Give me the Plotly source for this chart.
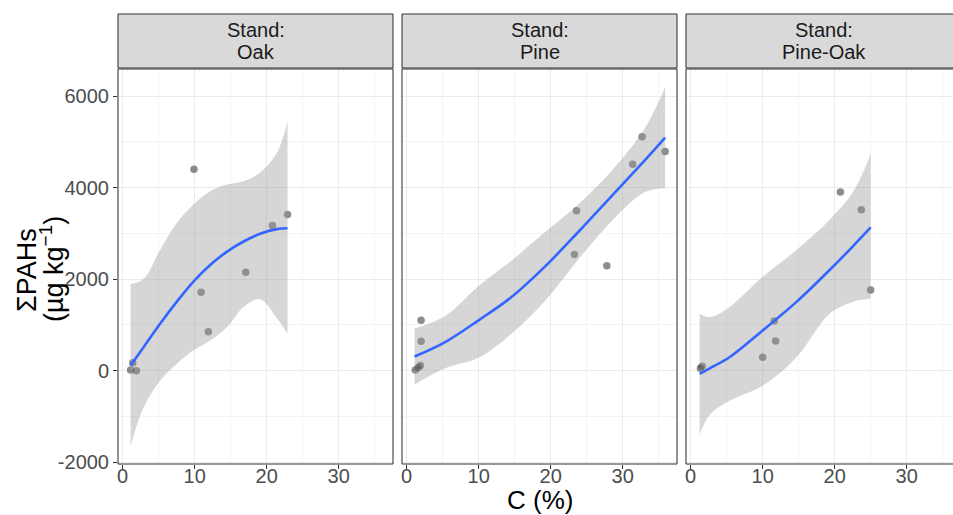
import plotly.graph_objects as go

# ---------------- data ----------------
stands = ["Oak", "Pine", "Pine-Oak"]

# observed points (C %, ΣPAHs µg/kg)
oak_c = [1.1, 1.4, 1.9, 9.9, 10.9, 11.9, 17.1, 20.8, 22.9]
oak_pah = [15, 170, 0, 4400, 1710, 850, 2150, 3170, 3410]

pine_c = [1.2, 1.6, 1.9, 2.0, 2.0, 23.3, 23.6, 27.8, 31.4, 32.7, 35.9]
pine_pah = [15, 70, 110, 640, 1100, 2535, 3495, 2290, 4510, 5110, 4790]

pineoak_c = [1.35, 1.6, 10.0, 11.6, 11.8, 20.8, 23.7, 25.0]
pineoak_pah = [50, 95, 295, 1085, 645, 3905, 3515, 1760]

# smoothed fit (loess) with confidence band
oak_fit_c = [1.1, 2.9, 5.2, 7.5, 9.8, 12.15, 14.5, 16.8, 19.1, 21.4, 22.9]
oak_fit = [110, 513, 1026, 1502, 1941, 2308, 2601, 2821, 2989, 3092, 3110]
oak_upper = [1890, 2000, 2637, 3224, 3626, 3919, 4066, 4139, 4330, 4750, 5450]
oak_lower = [-1648, -806, -220, 147, 440, 659, 952, 1392, 1560, 1150, 806]

pine_fit_c = [1.1, 5.35, 9.98, 14.6, 19.2, 23.9, 28.5, 33.1, 35.9]
pine_fit = [308, 623, 1099, 1612, 2271, 3040, 3820, 4600, 5092]
pine_upper = [918, 1193, 1850, 2412, 3021, 3640, 4370, 5300, 6192]
pine_lower = [-302, 53, 280, 812, 1521, 2440, 3270, 3900, 3992]

pineoak_fit_c = [1.25, 2.7, 5.4, 10.0, 14.7, 19.3, 22.5, 25.0]
pineoak_fit = [-73, 55, 293, 879, 1502, 2198, 2711, 3128]
pineoak_upper = [1245, 1172, 1392, 2051, 2637, 3297, 3890, 4725]
pineoak_lower = [-1392, -952, -659, -330, 293, 1245, 1502, 1575]

x_ticks = [0, 10, 20, 30]
y_ticks = [-2000, 0, 2000, 4000, 6000]

# ---------------- layout geometry ----------------
W, H = 953, 515
ML, MR, MT, MB = 118, 0, 14, 51
PW = W - ML - MR
PH = H - MT - MB
panel_px = [(118, 393), (402, 677), (686, 961)]
panel_top_px = 69
strip_top_px, strip_bot_px = 14, 68

def px2paper_x(px):
    return (px - ML) / PW

def px2paper_y(py):
    return (H - MB - py) / PH

unit = 275 / 38.2
x0_val = -0.65
y_range = [-2040, 6590]

FONT = "Liberation Sans, Arial, sans-serif"
GRID = "#ebebeb"
MINOR = "#f4f4f4"
DARK = "#333333"

fig = go.Figure()

data = [
    (oak_c, oak_pah, oak_fit_c, oak_fit, oak_upper, oak_lower),
    (pine_c, pine_pah, pine_fit_c, pine_fit, pine_upper, pine_lower),
    (pineoak_c, pineoak_pah, pineoak_fit_c, pineoak_fit, pineoak_upper, pineoak_lower),
]

for i, (pc, pv, fc, fv, up, lo) in enumerate(data):
    xa = "x" if i == 0 else f"x{i+1}"
    ya = "y" if i == 0 else f"y{i+1}"
    fig.add_trace(go.Scatter(x=pc, y=pv, mode="markers", xaxis=xa, yaxis=ya,
                             marker=dict(size=7.5, color="rgba(0,0,0,0.45)", line=dict(width=0)),
                             showlegend=False, hoverinfo="skip"))
    fig.add_trace(go.Scatter(x=fc, y=lo, mode="lines", xaxis=xa, yaxis=ya,
                             line=dict(width=0, shape="spline", color="rgba(0,0,0,0)"),
                             showlegend=False, hoverinfo="skip"))
    fig.add_trace(go.Scatter(x=fc, y=up, mode="lines", fill="tonexty",
                             fillcolor="rgba(153,153,153,0.4)",
                             line=dict(width=0, shape="spline", color="rgba(0,0,0,0)"),
                             xaxis=xa, yaxis=ya, showlegend=False, hoverinfo="skip"))
    fig.add_trace(go.Scatter(x=fc, y=fv, mode="lines", xaxis=xa, yaxis=ya,
                             line=dict(color="#3366FF", width=2.6, shape="spline"),
                             showlegend=False, hoverinfo="skip"))

layout = dict(width=W, height=H, margin=dict(l=ML, r=MR, t=MT, b=MB, autoexpand=False),
              paper_bgcolor="white", plot_bgcolor="white", showlegend=False,
              font=dict(family=FONT))

ydom = [0, px2paper_y(panel_top_px)]
for i, (a, b) in enumerate(panel_px):
    sfx = "" if i == 0 else str(i + 1)
    b_clip = min(b, W)
    width_px = b_clip - a
    layout["xaxis" + sfx] = dict(
        domain=[px2paper_x(a), min(px2paper_x(b), 1.0)],
        range=[x0_val, x0_val + width_px / unit],
        tickvals=x_ticks, ticktext=[str(v) for v in x_ticks],
        ticks="outside", ticklen=4, tickwidth=1.07, tickcolor=DARK,
        ticklabelstandoff=-10,
        tickfont=dict(size=20, color="#4d4d4d", family=FONT),
        showgrid=True, gridcolor=GRID, gridwidth=1.07,
        minor=dict(showgrid=True, gridcolor=MINOR, gridwidth=1, tickvals=[5, 15, 25, 35]),
        zeroline=False, showline=False, anchor="y" + sfx, automargin=False,
    )
    layout["yaxis" + sfx] = dict(
        domain=ydom, range=y_range,
        tickvals=y_ticks, ticktext=[str(v) for v in y_ticks],
        ticks="outside" if i == 0 else "", ticklen=4, tickwidth=1.07, tickcolor=DARK,
        showticklabels=(i == 0),
        tickfont=dict(size=20, color="#4d4d4d", family=FONT),
        showgrid=True, gridcolor=GRID, gridwidth=1.07,
        minor=dict(showgrid=True, gridcolor=MINOR, gridwidth=1, tickvals=[-1000, 1000, 3000, 5000]),
        zeroline=False, showline=False, anchor="x" + sfx, automargin=False,
    )

shapes = []
annotations = []

def border(xa, xb, ya, yb, right=True):
    ln = dict(color=DARK, width=1.07)
    out = [
        dict(type="line", xref="paper", yref="paper", x0=xa, x1=xa, y0=ya, y1=yb, line=ln, layer="above"),
        dict(type="line", xref="paper", yref="paper", x0=xa, x1=xb, y0=ya, y1=ya, line=ln, layer="above"),
        dict(type="line", xref="paper", yref="paper", x0=xa, x1=xb, y0=yb, y1=yb, line=ln, layer="above"),
    ]
    if right:
        out.append(dict(type="line", xref="paper", yref="paper", x0=xb, x1=xb, y0=ya, y1=yb,
                        line=ln, layer="above"))
    return out

for i, (a, b) in enumerate(panel_px):
    xa, xb = px2paper_x(a), px2paper_x(b)
    has_right = b <= W
    sy0, sy1 = px2paper_y(strip_bot_px), px2paper_y(strip_top_px)
    shapes.append(dict(type="rect", xref="paper", yref="paper", x0=xa, x1=xb,
                       y0=sy0, y1=sy1, fillcolor="#d9d9d9", line=dict(width=0), layer="above"))
    shapes += border(xa, xb, 0, ydom[1], has_right)
    shapes += border(xa, xb, sy0, sy1, has_right)
    cx = (xa + xb) / 2
    annotations.append(dict(xref="paper", yref="paper", x=cx, y=px2paper_y(30),
                            text="Stand:", showarrow=False, xanchor="center", yanchor="middle",
                            font=dict(size=20, color="#1a1a1a", family=FONT)))
    annotations.append(dict(xref="paper", yref="paper", x=cx, y=px2paper_y(52),
                            text=stands[i], showarrow=False, xanchor="center", yanchor="middle",
                            font=dict(size=20, color="#1a1a1a", family=FONT)))

annotations.append(dict(xref="paper", yref="paper", x=px2paper_x(540), y=px2paper_y(500),
                        text="C (%)", showarrow=False, xanchor="center", yanchor="middle",
                        font=dict(size=26, color="black", family=FONT)))
annotations.append(dict(xref="paper", yref="paper", x=px2paper_x(27), y=px2paper_y(270),
                        text="ΣPAHs", showarrow=False, textangle=-90,
                        xanchor="center", yanchor="middle",
                        font=dict(size=27, color="black", family=FONT)))
annotations.append(dict(xref="paper", yref="paper", x=px2paper_x(52), y=px2paper_y(269),
                        text="(µg kg<sup>−1</sup>)", showarrow=False, textangle=-90,
                        xanchor="center", yanchor="middle",
                        font=dict(size=27, color="black", family=FONT)))

layout["shapes"] = shapes
layout["annotations"] = annotations
fig.update_layout(**layout)

fig.write_html("out.html", config={"displayModeBar": False},
               post_script="document.body.style.margin='0';document.body.style.overflow='hidden';")
